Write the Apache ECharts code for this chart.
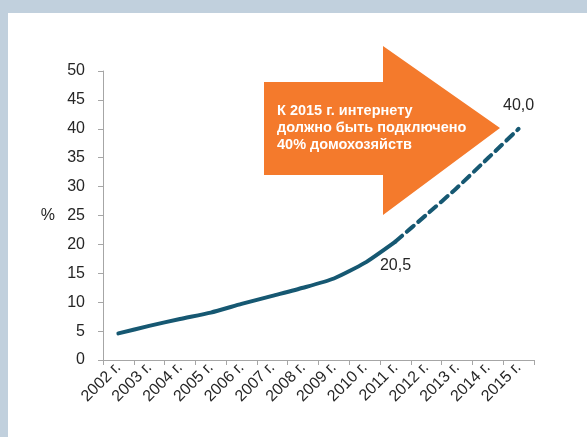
<!DOCTYPE html>
<html>
<head>
<meta charset="utf-8">
<script src="https://cdn.jsdelivr.net/npm/echarts@6/dist/echarts.min.js"></script>
<style>
  html, body { margin: 0; padding: 0; width: 587px; height: 437px; background: #c1d0dd; overflow: hidden; }
  #panel { position: absolute; left: 8px; top: 13px; right: 0; bottom: 0; background: #ffffff; }
  #chart { position: absolute; left: 0; top: 0; width: 587px; height: 437px; }
</style>
</head>
<body>
<div id="panel"></div>
<div id="chart"></div>
<script>
// Data
var years = ['2002 г.', '2003 г.', '2004 г.', '2005 г.', '2006 г.', '2007 г.', '2008 г.',
             '2009 г.', '2010 г.', '2011 г.', '2012 г.', '2013 г.', '2014 г.', '2015 г.'];
var actualValues = [4.6, 5.9, 7.1, 8.2, 9.7, 11.1, 12.5, 14.1, 16.8, 20.5, null, null, null, null];
var forecastValues = [null, null, null, null, null, null, null, null, null, 20.5, 25.1, 29.8, 34.9, 40.0];
var yTicks = [0, 5, 10, 15, 20, 25, 30, 35, 40, 45, 50];
var calloutLines = ['К 2015 г. интернету', 'должно быть подключено', '40% домохозяйств'];
var labelledActualIndex = 9;
var labelledForecastIndex = 13;

var lineColor = '#165872';
var fmt = function (v) { return v.toFixed(1).replace('.', ','); };

var actualData = actualValues.map(function (v, i) {
  if (i === labelledActualIndex) {
    return { value: v, label: { show: true, position: 'bottom', distance: 16, formatter: fmt(v) } };
  }
  return v;
});
var forecastData = forecastValues.map(function (v, i) {
  if (i === labelledForecastIndex) {
    return { value: v, label: { show: true, position: 'top', distance: 15, formatter: fmt(v) } };
  }
  return v;
});

var chart = echarts.init(document.getElementById('chart'), null, { renderer: 'canvas' });
var font = 'Liberation Sans';
var option = {
  backgroundColor: 'transparent',
  animation: false,
  grid: { left: 103, top: 71, right: 53, bottom: 77, containLabel: false },
  xAxis: {
    type: 'category',
    data: years,
    boundaryGap: true,
    axisLine: { lineStyle: { color: '#a6a6a6', width: 1 } },
    axisTick: { show: true, length: 5, lineStyle: { color: '#a6a6a6' } },
    axisLabel: { rotate: 45, margin: 5, color: '#262626', fontFamily: font, fontSize: 16, interval: 0 },
    splitLine: { show: false }
  },
  yAxis: {
    type: 'value',
    min: yTicks[0],
    max: yTicks[yTicks.length - 1],
    interval: yTicks[1] - yTicks[0],
    name: '%',
    nameLocation: 'middle',
    nameRotate: 0,
    nameGap: 48,
    nameTextStyle: { color: '#262626', fontFamily: font, fontSize: 16 },
    axisLine: { show: true, lineStyle: { color: '#a6a6a6', width: 1 } },
    axisTick: { show: true, length: 5, lineStyle: { color: '#a6a6a6' } },
    axisLabel: { margin: 18, color: '#262626', fontFamily: font, fontSize: 16 },
    splitLine: { show: false }
  },
  graphic: [
    {
      type: 'polygon',
      z: 1,
      shape: {
        points: [[264, 82], [383, 82], [383, 46], [500, 128], [383, 215], [383, 175], [264, 175]]
      },
      style: { fill: '#f47a2c' }
    },
    {
      type: 'text',
      z: 2,
      left: 277,
      top: 102,
      style: {
        text: calloutLines.join('\n'),
        fill: '#ffffff',
        font: 'bold 14.5px "Liberation Sans"',
        lineHeight: 17
      }
    }
  ],
  series: [
    {
      type: 'line',
      data: actualData,
      smooth: 0.2,
      showSymbol: true,
      symbol: 'circle',
      symbolSize: 0,
      connectNulls: false,
      lineStyle: { color: lineColor, width: 4, cap: 'round', join: 'round' },
      itemStyle: { color: lineColor },
      label: { show: false, color: '#262626', fontFamily: font, fontSize: 16 },
      z: 3
    },
    {
      type: 'line',
      data: forecastData,
      smooth: 0.2,
      showSymbol: true,
      symbol: 'circle',
      symbolSize: 0,
      connectNulls: false,
      lineStyle: { color: lineColor, width: 4, type: [9, 6], cap: 'round', join: 'round' },
      itemStyle: { color: lineColor },
      label: { show: false, color: '#262626', fontFamily: font, fontSize: 16 },
      z: 3
    }
  ]
};
chart.setOption(option);
</script>
</body>
</html>
